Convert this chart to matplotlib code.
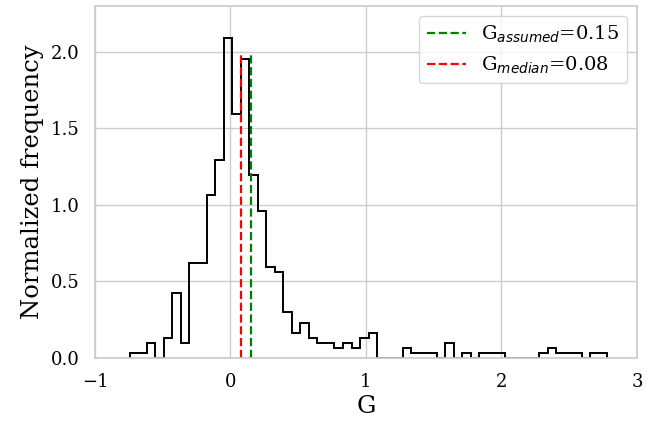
import numpy as np
import matplotlib
matplotlib.use("Agg")
import matplotlib.pyplot as plt

# histograma normalizado de G (alturas de densidad por bin)
g_min = -0.7435
g_max = 2.782
densidad = [0.033, 0.033, 0.098, 0.0, 0.130, 0.424, 0.098, 0.620, 0.620, 1.066,
            1.294, 2.087, 1.593, 1.955, 1.194, 0.959, 0.594, 0.561, 0.296, 0.163,
            0.228, 0.130, 0.098, 0.098, 0.065, 0.098, 0.065, 0.130, 0.163, 0.0,
            0.0, 0.0, 0.065, 0.033, 0.033, 0.033, 0.0, 0.098, 0.0, 0.033,
            0.0, 0.033, 0.033, 0.033, 0.0, 0.0, 0.0, 0.0, 0.033, 0.065,
            0.033, 0.033, 0.033, 0.0, 0.033, 0.033]
bordes = np.linspace(g_min, g_max, len(densidad) + 1)

G_assumed = 0.15
G_median = 0.08
altura_lineas = 2.0

xticks = [-1, 0, 1, 2, 3]
yticks = [0.0, 0.5, 1.0, 1.5, 2.0]

plt.rcParams['font.family'] = 'DejaVu Serif'
plt.rcParams['axes.edgecolor'] = '#cccccc'
plt.rcParams['axes.linewidth'] = 1.25

fig, ax = plt.subplots(figsize=(6.56, 4.21), dpi=100)
fig.subplots_adjust(left=0.1448, right=0.971, bottom=0.1504, top=0.986)

ax.grid(True, color='#cccccc', linewidth=1.0)
ax.set_axisbelow(True)

ax.stairs(densidad, bordes, color='black', linewidth=1.4, baseline=0)

ax.vlines(G_assumed, 0, altura_lineas, colors='green', linestyles='--',
          linewidth=1.6, label=r'G$_{assumed}$=' + f'{G_assumed}')
ax.vlines(G_median, 0, altura_lineas, colors='red', linestyles='--',
          linewidth=1.6, label=r'G$_{median}$=' + f'{G_median}')

ax.set_xlim(-1, 3)
ax.set_ylim(0, 2.3)
ax.set_xticks(xticks)
ax.set_yticks(yticks)
ax.tick_params(axis='both', length=0, labelsize=13, pad=11)

ax.set_xlabel('G', fontsize=17.5, labelpad=3)
ax.set_ylabel('Normalized frequency', fontsize=17.5, labelpad=5)

leg = ax.legend(loc='upper right', fontsize=14, frameon=True, fancybox=True,
                borderaxespad=0.5)
leg.get_frame().set_edgecolor('#cccccc')

fig.savefig('out.png', dpi=100)
